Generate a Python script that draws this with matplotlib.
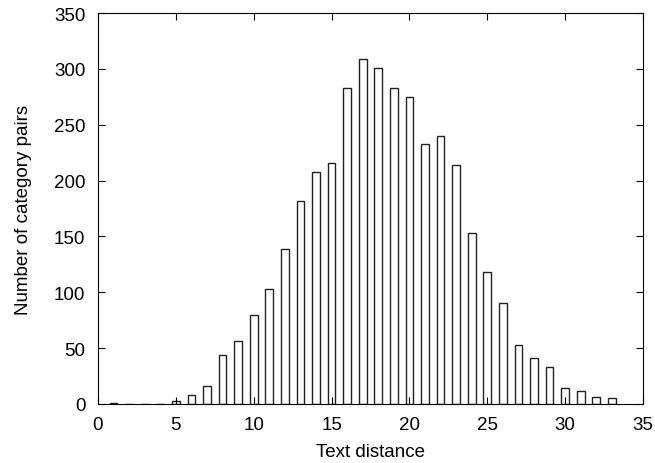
import numpy as np
import matplotlib
matplotlib.use('Agg')
import matplotlib.pyplot as plt

plt.rcParams.update({
    'font.family': ['Liberation Sans', 'DejaVu Sans'],
    'font.size': 13.5,
    'xtick.direction': 'in', 'ytick.direction': 'in',
    'xtick.top': True, 'ytick.right': True,
    'xtick.major.size': 5, 'ytick.major.size': 5,
})

# text distance -> number of category pairs
distance = list(range(1, 34))
pairs = [1, 0, 0, 0, 3, 8, 16, 44, 56, 80, 103, 139, 182, 208, 216, 283, 309,
         301, 283, 275, 233, 240, 214, 153, 118, 90, 53, 41, 33, 14, 12, 6, 5]

fig = plt.figure(figsize=(6.55, 4.64), dpi=100)
ax = fig.add_axes([0.1496, 0.1272, 0.8321, 0.8426])
ax.bar(distance, pairs, width=0.5, facecolor='white', edgecolor='#222', lw=1.0)
ax.set_xlim(0, 35)
ax.set_ylim(0, 350)
ax.set_xticks(range(0, 36, 5))
ax.set_yticks(range(0, 351, 50))
ax.set_xlabel('Text distance', labelpad=7)
ax.set_ylabel('Number of category pairs', labelpad=16)
ax.tick_params(axis='x', pad=9)
ax.tick_params(axis='y', pad=9)
fig.savefig('out.png')
